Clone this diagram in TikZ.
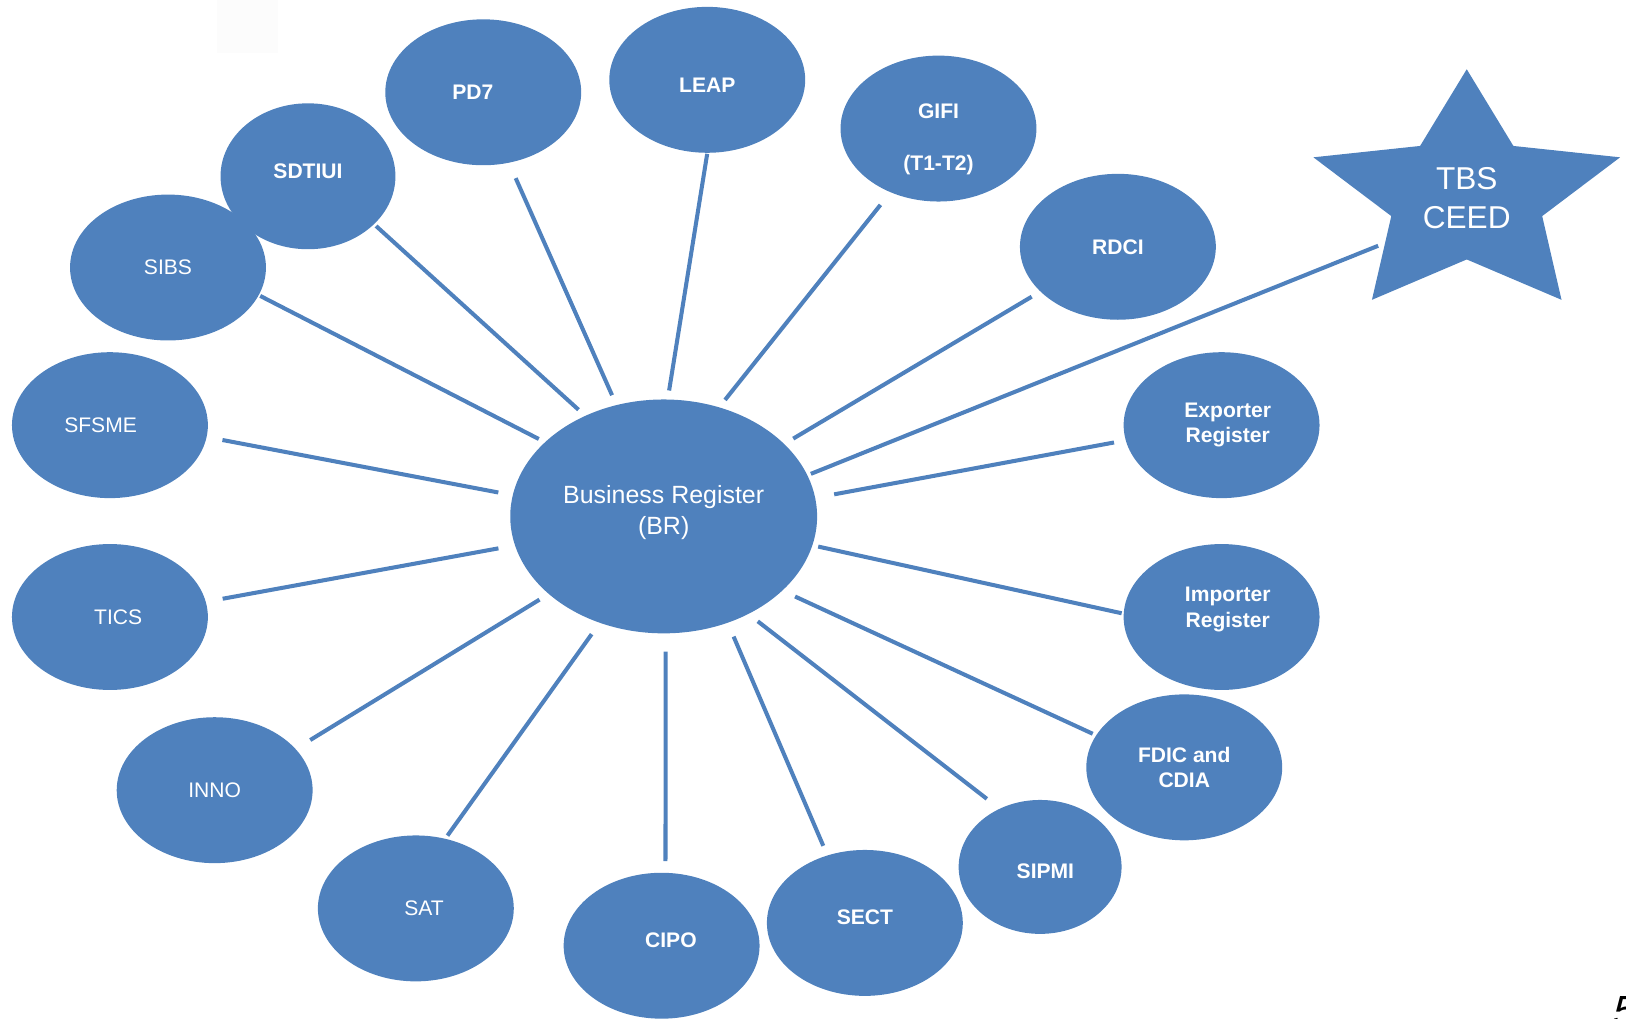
\documentclass[tikz,border=0pt]{standalone}
\usepackage{fontspec}
\setmainfont{Liberation Sans}
\usetikzlibrary{shapes.geometric}
\definecolor{regblue}{HTML}{4F81BD}
\tikzset{
    %Define style for the register bubbles
    register/.style={
           ellipse,
           fill=regblue,
           text=white,
           inner sep=0pt,
           minimum width=1.96cm,
           minimum height=1.46cm,
           font=\fontsize{6}{7.2}\selectfont,
           align=center},
    bregister/.style={
           register,
           font=\fontsize{6}{7.2}\selectfont\bfseries},
    hub/.style={
           register,
           minimum width=3.07cm,
           minimum height=2.34cm,
           font=\fontsize{7.1}{8.8}\selectfont},
    % Define line style
    link/.style={
           draw=regblue,
           line width=1.15pt}
}
\begin{document}
\begin{tikzpicture}[x=0.01037cm,y=-0.01037cm]
\useasboundingbox (0,0) rectangle (1568,982);
\fill[black!1] (209,0) rectangle (268,51);

 %nodes
\node[hub, text depth=3.9pt] (br) at (640,498) {Business Register\\(BR)};
\node[bregister] (pd7) at (466,89) {PD7\kern5.9pt};
\node[bregister, text height=7.3pt] (leap) at (682,77) {LEAP};
\node[bregister, text height=25.2pt] (gifi) at (905,124) {GIFI\\[7.6pt](T1-T2)};
\node[bregister, minimum width=1.75cm, text depth=3pt] (sdtiui) at (297,170) {SDTIUI};
\node[register] (sibs) at (162,258) {SIBS};
\node[register] (sfsme) at (106,410) {SFSME\kern5.3pt};
\node[register] (tics) at (106,595) {\kern4.7pt TICS};
\node[register] (inno) at (207,762) {INNO};
\node[register] (sat) at (401,876) {\kern4.7pt SAT};
\node[bregister, text depth=3pt] (cipo) at (638,912) {\kern5.3pt CIPO};
\node[bregister, text depth=3.5pt] (sect) at (834,890) {SECT};
\node[bregister, minimum width=1.63cm, minimum height=1.34cm, text height=6.7pt] (sipmi) at (1003,836) {\kern3pt SIPMI};
\node[bregister] (fdic) at (1142,740) {FDIC and\\CDIA};
\node[bregister, text depth=5.5pt] (importer) at (1178,595) {\kern3.5pt Importer\\\kern3.5pt Register};
\node[bregister] (exporter) at (1178,410) {\kern3.5pt Exporter\\\kern3.5pt Register};
\node[bregister] (rdci) at (1078,238) {RDCI};

 %star
\fill[regblue, shift={(1414.4,189.7)}] (270:155.5 and 122.9)
    \foreach \k in {0,...,4} { -- ({306+72*\k}:76.5 and 60.5) -- ({342+72*\k}:155.5 and 122.9) } -- cycle;
\node[text=white, align=center, font=\fontsize{9}{11}\selectfont] (tbs) at (1414.4,191) {TBS\\CEED};
\coordinate (tbsend) at (1329,237);

\node[anchor=north west, inner sep=0pt, font=\fontsize{12}{14}\selectfont\itshape] (page) at (1555,960) {5};

 %links
\path[link]
    (sibs.-17.6) edge[shorten <=0.3pt, shorten >=1.8pt] (br.148.3)
    (sdtiui.-36.4) edge[shorten <=0.6pt, shorten >=2.4pt] (br.128.5)
    (pd7.-70.7) edge[shorten <=4.6pt, shorten >=2.9pt] (br.113.1)
    (leap.-90.8) edge[shorten <=0.1pt, shorten >=2.4pt] (br.88.1)
    (gifi.-127.5) edge[shorten <=4.4pt, shorten >=2.5pt] (br.63.2)
    (rdci.-150.5) edge[shorten <=2.7pt, shorten >=2.8pt] (br.31.2)
    (tbsend) edge[shorten >=0.9pt] (br.16.2)
    (exporter.-171.8) edge[shorten <=3.2pt, shorten >=5.3pt] (br.7.6)
    (importer.178.8) edge[shorten <=0.4pt, shorten >=1.5pt] (br.-11.8)
    (fdic.160) edge[shorten <=0.9pt, shorten >=3.8pt] (br.-32.8)
    (sipmi.125.8) edge[shorten <=4.4pt, shorten >=3.2pt] (br.-49.5)
    (sect.119.9) edge[shorten <=2.8pt, shorten >=4.1pt] (br.-59)
    (cipo.87.2) edge[shorten <=3.1pt, shorten >=5pt] (br.-89.1)
    (sat.67.5) edge[shorten <=0.9pt, shorten >=3.8pt] (br.-121.2)
    (inno.27.6) edge[shorten <=4.7pt, shorten >=2.9pt] (br.-146.3)
    (tics.9.5) edge[shorten <=4.7pt, shorten >=4.6pt] (br.-169.3)
    (sfsme.-7.9) edge[shorten <=4.4pt, shorten >=4pt] (br.172.1);

\end{tikzpicture}
\end{document}
